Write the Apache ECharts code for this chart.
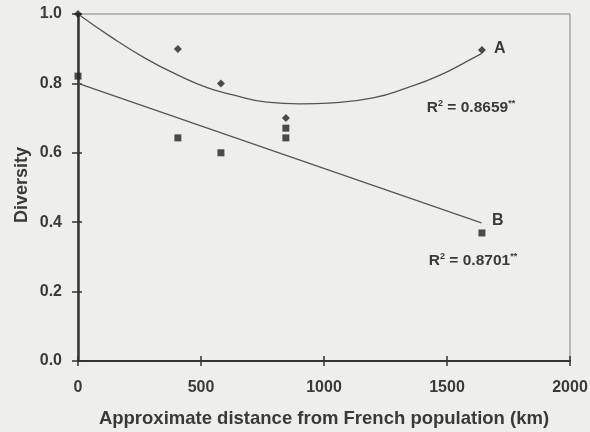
<!DOCTYPE html>
<html>
<head>
<meta charset="utf-8">
<script src="https://cdn.jsdelivr.net/npm/echarts@6/dist/echarts.min.js"></script>
<style>
  html, body { margin: 0; padding: 0; background: #eeeeeb; }
  #main { width: 590px; height: 432px; }
</style>
</head>
<body>
<div id="main"></div>
<script>
// 数据：距离 (km) 与多样性
var distA = [0, 406, 581, 845, 1642];
var divA = [1.0, 0.899, 0.80, 0.70, 0.896];
var distB = [0, 406, 581, 845, 845, 1642];
var divB = [0.821, 0.643, 0.60, 0.671, 0.643, 0.369];

// 趋势线
var trendAX = [0, 134, 272, 406, 528, 630, 768, 902, 1037, 1199, 1337, 1472, 1606, 1640];
var trendAY = [1.0, 0.934, 0.873, 0.824, 0.787, 0.767, 0.746, 0.741, 0.744, 0.758, 0.787, 0.824, 0.873, 0.886];
var trendBX = [0, 1640];
var trendBY = [0.80, 0.398];

var xTicks = [0, 500, 1000, 1500, 2000];
var yTicks = [0.0, 0.2, 0.4, 0.6, 0.8, 1.0];

function pairs(xs, ys) {
    var out = [];
    for (var i = 0; i < xs.length; i++) out.push([xs[i], ys[i]]);
    return out;
}

var font = 'Liberation Sans, Arial, sans-serif';
var ink = '#3a3a3a';

var chart = echarts.init(document.getElementById('main'));
chart.setOption({
    backgroundColor: '#eeeeeb',
    animation: false,
    textStyle: { fontFamily: font },
    grid: {
        left: 78, right: 20, top: 14, bottom: 71,
        outerBoundsMode: 'none',
        show: true, borderColor: '#808080', borderWidth: 1
    },
    xAxis: [{
        type: 'value',
        min: xTicks[0], max: xTicks[xTicks.length - 1], interval: 500,
        name: 'Approximate distance from French population (km)',
        nameLocation: 'middle', nameGap: 48,
        nameTextStyle: { color: ink, fontSize: 18.5, fontWeight: 'bold', fontFamily: font },
        axisLine: { lineStyle: { color: '#333', width: 2 } },
        axisTick: { inside: false, length: 5, lineStyle: { color: '#333', width: 1.5 } },
        axisLabel: {
            color: ink, fontSize: 16, fontWeight: 'bold', margin: 19,
            formatter: function (v) { return String(v); }
        },
        splitLine: { show: false }
    }, {
        type: 'value', position: 'bottom',
        min: xTicks[0], max: xTicks[xTicks.length - 1], interval: 500,
        axisLine: { show: false },
        axisTick: { inside: true, length: 5, lineStyle: { color: '#333', width: 1.5 } },
        axisLabel: { show: false },
        splitLine: { show: false }
    }],
    yAxis: [{
        type: 'value',
        min: yTicks[0], max: yTicks[yTicks.length - 1], interval: 0.2,
        axisLine: { show: true, lineStyle: { color: '#333', width: 2.5 } },
        axisTick: { show: true, inside: false, length: 6, lineStyle: { color: '#333', width: 1.5 } },
        axisLabel: {
            color: ink, fontSize: 16, fontWeight: 'bold', margin: 16,
            formatter: function (v) { return v.toFixed(1); }
        },
        splitLine: { show: false }
    }, {
        type: 'value', position: 'left',
        min: yTicks[0], max: yTicks[yTicks.length - 1], interval: 0.2,
        axisLine: { show: false },
        axisTick: { show: true, inside: true, length: 4, lineStyle: { color: '#333', width: 1.5 } },
        axisLabel: { show: false },
        splitLine: { show: false }
    }],
    graphic: [
        { type: 'text', x: 22, y: 185, rotation: Math.PI / 2,
          style: { text: 'Diversity', fill: ink, font: 'bold 18px ' + font, align: 'center', verticalAlign: 'middle' } },
        { type: 'text', x: 494, y: 49,
          style: { text: 'A', fill: ink, font: 'bold 16px ' + font, verticalAlign: 'middle' } },
        { type: 'text', x: 492, y: 221,
          style: { text: 'B', fill: ink, font: 'bold 16px ' + font, verticalAlign: 'middle' } },
        { type: 'text', x: 471, y: 108,
          style: {
              text: '{a|R}{s|2}{a| = 0.8659}{s|**}', align: 'center', verticalAlign: 'middle',
              rich: {
                  a: { fontSize: 15.5, fontWeight: 'bold', fill: ink, fontFamily: font },
                  s: { fontSize: 9, fontWeight: 'bold', fill: ink, fontFamily: font, padding: [0, 0, 8, 0] }
              }
          } },
        { type: 'text', x: 473, y: 261,
          style: {
              text: '{a|R}{s|2}{a| = 0.8701}{s|**}', align: 'center', verticalAlign: 'middle',
              rich: {
                  a: { fontSize: 15.5, fontWeight: 'bold', fill: ink, fontFamily: font },
                  s: { fontSize: 9, fontWeight: 'bold', fill: ink, fontFamily: font, padding: [0, 0, 8, 0] }
              }
          } }
    ],
    series: [{
        name: 'A trend', type: 'line', smooth: true, showSymbol: false,
        data: pairs(trendAX, trendAY),
        lineStyle: { color: '#555', width: 1.3 }, z: 2
    }, {
        name: 'B trend', type: 'line', showSymbol: false,
        data: pairs(trendBX, trendBY),
        lineStyle: { color: '#555', width: 1.3 }, z: 2
    }, {
        name: 'A', type: 'scatter', symbol: 'diamond', symbolSize: 8,
        data: pairs(distA, divA),
        itemStyle: { color: '#222' }, z: 3
    }, {
        name: 'B', type: 'scatter', symbol: 'rect', symbolSize: 7,
        data: pairs(distB, divB),
        itemStyle: { color: '#222' }, z: 3
    }]
});
</script>
</body>
</html>
